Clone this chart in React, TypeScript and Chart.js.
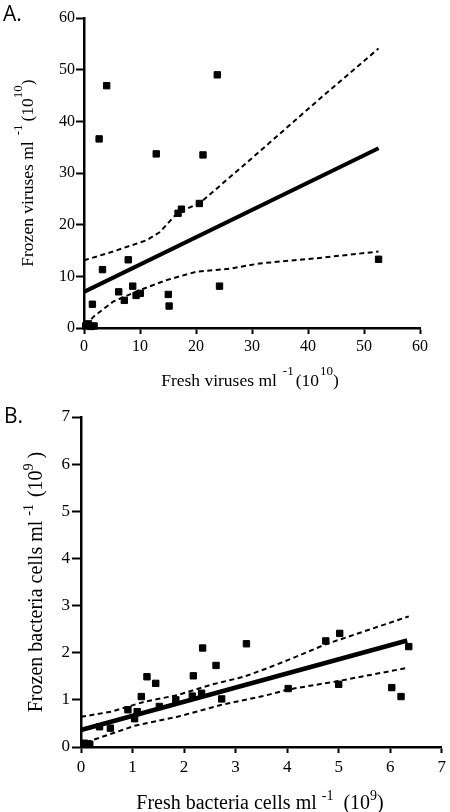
import React, { useEffect, useRef } from 'react';
import { Chart, registerables } from 'chart.js';

Chart.register(...registerables);

// ---------- Panel A: viruses ----------
const virusTicks = [0, 10, 20, 30, 40, 50, 60];
const freshVirus = [0.3, 0.8, 1.2, 1.8, 1.5, 2.7, 3.3, 4.05, 6.2, 7.2, 7.9, 8.7, 9.3, 10.05, 12.9, 15.05, 15.2, 16.8, 17.4, 20.6, 21.25, 23.8, 24.2, 52.6];
const frozenVirus = [0.4, 0.8, 0.3, 0.4, 4.6, 36.6, 11.3, 46.9, 7.0, 5.35, 13.2, 8.1, 6.3, 6.7, 33.7, 6.5, 4.25, 22.2, 23.0, 24.1, 33.5, 49.0, 8.1, 13.3];
const virusFitX = [0, 52.6];
const virusFitY = [7.0, 34.8];
const virusUpperX = [0, 5.2, 11.2, 13.6, 16.0, 17.1, 20.7, 29.6, 41.5, 52.6];
const virusUpperY = [13.1, 14.8, 17.0, 18.6, 21.5, 22.5, 24.2, 32.5, 43.8, 54.1];
const virusLowerX = [0.3, 1.7, 5.2, 10.0, 14.8, 20.1, 26.1, 31.4, 41.5, 52.6];
const virusLowerY = [0.5, 2.2, 5.1, 7.35, 9.3, 10.9, 11.5, 12.5, 13.5, 14.8];

// ---------- Panel B: bacteria ----------
const bacteriaTicks = [0, 1, 2, 3, 4, 5, 6, 7];
const freshBacteria = [0.07, 0.17, 0.36, 0.57, 0.91, 1.04, 1.09, 1.17, 1.28, 1.45, 1.52, 1.84, 2.16, 2.18, 2.34, 2.36, 2.62, 2.73, 3.21, 4.02, 4.75, 5.0, 5.02, 6.03, 6.21, 6.36];
const frozenBacteria = [0.08, 0.06, 0.43, 0.40, 0.79, 0.60, 0.75, 1.07, 1.49, 1.35, 0.86, 1.0, 1.08, 1.51, 1.14, 2.10, 1.73, 1.02, 2.19, 1.24, 2.25, 1.33, 2.41, 1.26, 1.07, 2.13];
const bacteriaFitX = [0, 6.33];
const bacteriaFitY = [0.36, 2.26];
const bacteriaUpperX = [0, 0.59, 1.23, 1.87, 2.52, 3.16, 3.61, 4.10, 4.75, 6.36];
const bacteriaUpperY = [0.64, 0.75, 0.96, 1.10, 1.32, 1.49, 1.67, 1.88, 2.18, 2.77];
const bacteriaLowerX = [0.1, 1.04, 1.87, 2.71, 3.61, 4.02, 5.0, 6.29];
const bacteriaLowerY = [0.1, 0.45, 0.64, 0.89, 1.10, 1.22, 1.40, 1.67];

type Part = { t: string; sup?: boolean; gap?: number };

const SERIF = "'Liberation Serif', 'Times New Roman', serif";
const SANS = "'Open Sans', 'Noto Sans', sans-serif";

const toXY = (xs: number[], ys: number[]) => xs.map((x, i) => ({ x, y: ys[i] }));

function drawRich(ctx: CanvasRenderingContext2D, parts: Part[], cx: number, cy: number, size: number, supSize: number, raise: number, rotate: boolean) {
  ctx.save();
  ctx.translate(cx, cy);
  if (rotate) ctx.rotate(-Math.PI / 2);
  const f = (s: number) => `${s}px ${SERIF}`;
  let total = 0;
  const widths = parts.map((p) => {
    ctx.font = f(p.sup ? supSize : size);
    const w = ctx.measureText(p.t).width + (p.gap || 0);
    total += w;
    return w;
  });
  let x = -total / 2;
  ctx.textBaseline = 'alphabetic';
  ctx.textAlign = 'left';
  ctx.fillStyle = '#000';
  const base = size * 0.33;
  parts.forEach((p, i) => {
    ctx.font = f(p.sup ? supSize : size);
    ctx.fillText(p.t, x + (p.gap || 0), base + (p.sup ? -size * raise : 0));
    x += widths[i];
  });
  ctx.restore();
}

interface PanelProps {
  height: number;
  letter: string;
  letterPos: [number, number];
  letterSize: number;
  xs: number[]; ys: number[];
  fitX: number[]; fitY: number[];
  upX: number[]; upY: number[];
  loX: number[]; loY: number[];
  ticks: number[];
  xTitle: Part[]; yTitle: Part[];
  xTitlePos: [number, number]; yTitlePos: [number, number];
  titleSize: number; supSize: number; supRaise: number;
  tickSize: number;
  pad: { top: number; right: number };
  yWidth: number; xHeight: number;
  yTickLen: number; yTickPad: number; xTickLen: number; xTickPad: number;
  fitWidth: number;
}

function Panel(p: PanelProps) {
  const ref = useRef<HTMLCanvasElement>(null);
  useEffect(() => {
    if (!ref.current) return;
    const annot = {
      id: 'annot',
      afterDraw(chart: any) {
        const ctx = chart.ctx as CanvasRenderingContext2D;
        ctx.save();
        ctx.fillStyle = '#000';
        ctx.font = `${p.letterSize}px ${SANS}`;
        ctx.textBaseline = 'alphabetic';
        ctx.textAlign = 'left';
        ctx.fillText(p.letter, p.letterPos[0], p.letterPos[1]);
        ctx.restore();
        drawRich(ctx, p.xTitle, p.xTitlePos[0], p.xTitlePos[1], p.titleSize, p.supSize, p.supRaise, false);
        drawRich(ctx, p.yTitle, p.yTitlePos[0], p.yTitlePos[1], p.titleSize, p.supSize, p.supRaise, true);
      },
    };
    const lineDs = (xs: number[], ys: number[], dashed: boolean, w: number) => ({
      data: toXY(xs, ys),
      showLine: true,
      borderColor: '#000',
      backgroundColor: '#000',
      borderWidth: w,
      borderDash: dashed ? [5, 3.5] : [],
      pointRadius: 0,
      tension: 0,
      clip: false as any,
    });
    const axisGrid = (len: number) => ({
      grid: { display: true, drawOnChartArea: false, drawTicks: true, tickLength: len, tickWidth: 2, tickColor: '#000', color: '#000' },
      border: { display: true, color: '#000', width: 2.5 },
    });
    const chart = new Chart(ref.current, {
      type: 'scatter',
      data: {
        datasets: [
          {
            data: toXY(p.xs, p.ys),
            pointStyle: 'rect',
            pointRadius: 4.5,
            borderWidth: 1,
            borderColor: '#000',
            backgroundColor: '#000',
            clip: false as any,
          },
          lineDs(p.fitX, p.fitY, false, p.fitWidth),
          lineDs(p.upX, p.upY, true, 2),
          lineDs(p.loX, p.loY, true, 2),
        ],
      },
      options: {
        animation: false,
        responsive: false,
        devicePixelRatio: 1,
        layout: { padding: { left: 0, top: p.pad.top, right: p.pad.right, bottom: 0 } },
        plugins: { legend: { display: false }, tooltip: { enabled: false } },
        scales: {
          x: {
            type: 'linear',
            min: p.ticks[0],
            max: p.ticks[p.ticks.length - 1],
            afterBuildTicks: (s: any) => { s.ticks = p.ticks.map((v) => ({ value: v })); },
            afterFit: (s: any) => { s.height = p.xHeight; },
            ...axisGrid(p.xTickLen),
            ticks: { color: '#000', padding: p.xTickPad, maxRotation: 0, font: { family: SERIF, size: p.tickSize } },
          },
          y: {
            type: 'linear',
            min: p.ticks[0],
            max: p.ticks[p.ticks.length - 1],
            afterBuildTicks: (s: any) => { s.ticks = p.ticks.map((v) => ({ value: v })); },
            afterFit: (s: any) => { s.width = p.yWidth; },
            ...axisGrid(p.yTickLen),
            ticks: { color: '#000', padding: p.yTickPad, font: { family: SERIF, size: p.tickSize } },
          },
        } as any,
      },
      plugins: [annot],
    } as any);
    return () => chart.destroy();
  }, []);
  return <canvas ref={ref} width={450} height={p.height} style={{ display: 'block', width: 450, height: p.height }} />;
}

export default function App() {
  return (
    <div style={{ position: 'absolute', left: 0, top: 0, width: 450, height: 812, background: '#fff' }}>
      <Panel
        height={400}
        letter="A."
        letterPos={[3, 21]}
        letterSize={21}
        xs={freshVirus} ys={frozenVirus}
        fitX={virusFitX} fitY={virusFitY}
        upX={virusUpperX} upY={virusUpperY}
        loX={virusLowerX} loY={virusLowerY}
        ticks={virusTicks}
        xTitle={[{ t: 'Fresh viruses ml' }, { t: '-1', sup: true, gap: 6 }, { t: '(10', gap: 2 }, { t: '10', sup: true, gap: 1 }, { t: ')' }]}
        yTitle={[{ t: 'Frozen viruses ml' }, { t: '-1', sup: true, gap: 6 }, { t: '(10', gap: 3 }, { t: '10', sup: true }, { t: ')' }]}
        xTitlePos={[250, 380]}
        yTitlePos={[27, 173]}
        titleSize={17.5} supSize={13} supRaise={0.6}
        tickSize={16}
        pad={{ top: 18, right: 30 }}
        yWidth={84} xHeight={72}
        yTickLen={8} yTickPad={1} xTickLen={6} xTickPad={3}
        fitWidth={4}
      />
      <Panel
        height={412}
        letter="B."
        letterPos={[4, 23]}
        letterSize={21}
        xs={freshBacteria} ys={frozenBacteria}
        fitX={bacteriaFitX} fitY={bacteriaFitY}
        upX={bacteriaUpperX} upY={bacteriaUpperY}
        loX={bacteriaLowerX} loY={bacteriaLowerY}
        ticks={bacteriaTicks}
        xTitle={[{ t: 'Fresh bacteria cells ml' }, { t: '-1', sup: true, gap: 5 }, { t: '(10', gap: 10 }, { t: '9', sup: true }, { t: ')' }]}
        yTitle={[{ t: 'Frozen bacteria cells ml' }, { t: '-1', sup: true, gap: 5 }, { t: '(10', gap: 7 }, { t: '9', sup: true }, { t: ' )' }]}
        xTitlePos={[260, 402]}
        yTitlePos={[35, 182]}
        titleSize={20} supSize={14} supRaise={0.42}
        tickSize={17}
        pad={{ top: 17, right: 7 }}
        yWidth={81} xHeight={65}
        yTickLen={9} yTickPad={2} xTickLen={6} xTickPad={4}
        fitWidth={4.5}
      />
    </div>
  );
}
